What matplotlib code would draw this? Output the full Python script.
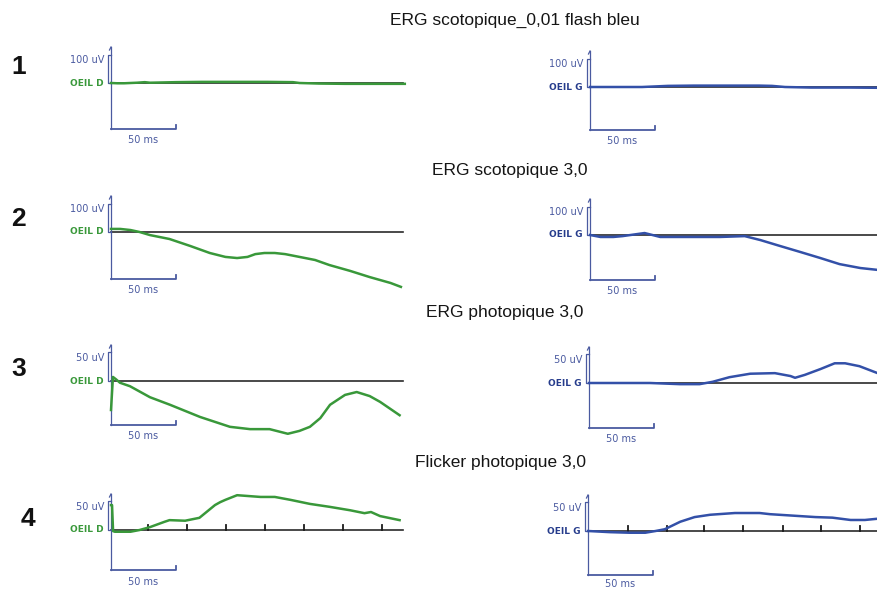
import matplotlib.pyplot as plt

W, H = 878, 590
MS_PX = 1.3  # pixels per ms (50 ms bar = 65 px)

# texts
titles = ["ERG scotopique_0,01 flash bleu", "ERG scotopique 3,0",
          "ERG photopique 3,0", "Flicker photopique 3,0"]
row_labels = ["1", "2", "3", "4"]
amp_labels = ["100 uV", "100 uV", "50 uV", "50 uV"]
amp_values = [100, 100, 50, 50]       # uV represented by the scale bracket
eye_labels = ["OEIL D", "OEIL G"]

# --- traces (time in ms, amplitude in uV) ---
# 1: scotopique 0,01
d1_t = [0, 5, 10, 20, 26, 30, 40, 50, 70, 100, 120, 140, 145, 160, 180, 200, 226]
d1_v = [0, -1, -1, 1, 3, 1, 2, 3, 4, 4, 4, 3, 0, -2, -3, -3, -3]
g1_t = [0, 20, 40, 50, 60, 80, 100, 130, 140, 150, 170, 200, 226]
g1_v = [0, 0, 0, 2, 4, 5, 5, 5, 4, 0, -2, -2, -3]

# 2: scotopique 3,0
d2_t = [0, 7, 15, 22, 30, 45, 61, 76, 88, 97, 105, 111, 118, 126, 134, 145, 157, 168, 184, 199, 215, 223]
d2_v = [11, 11, 7, 0, -11, -25, -50, -75, -89, -93, -89, -79, -75, -75, -79, -89, -100, -118, -139, -161, -182, -196]
g2_t = [0, 8, 18, 25, 42, 48, 54, 77, 100, 119, 131, 146, 162, 177, 192, 208, 222, 230]
g2_v = [0, -7, -7, -4, 7, 0, -7, -7, -7, -4, -18, -39, -61, -82, -104, -118, -125, -128]

# 3: photopique 3,0
d3_t = [0, 1.5, 3.8, 6.9, 14.6, 30, 45.4, 68.5, 91.5, 107, 122, 136, 145, 153, 161, 168.5, 180, 189, 199, 207, 222]
d3_v = [-50, 7, 3, -3, -9, -28, -41, -62, -79, -83, -83, -91, -86, -79, -64, -41, -24, -19, -26, -36, -59]
g3_t = [0, 24, 47, 70, 85, 95, 108, 124, 143, 155, 158.5, 166, 178, 189, 197, 208, 222, 230]
g3_v = [0, 0, 0, -2, -2, 2, 10, 16, 17, 12, 9, 14, 24, 34, 34, 29, 17, 12]

# 4: flicker 3,0
d4_t = [0, 0.8, 1.6, 3, 8, 15, 22, 30, 41, 45, 57, 68, 80, 84, 88, 97, 115, 126, 138, 153, 168, 184, 195, 200, 207, 222]
d4_v = [43, 43, -2, -3, -3, -3, 0, 5, 14, 17, 16, 21, 43, 48, 52, 60, 57, 57, 52, 45, 40, 34, 29, 31, 24, 17]
g4_t = [0, 17, 32, 44, 52, 59, 71, 82, 94, 113, 132, 140, 161, 175, 188, 202, 213, 222, 230]
g4_v = [0, -2, -3, -3, 0, 3, 16, 24, 28, 31, 31, 29, 26, 24, 23, 19, 19, 21, 21]

# flicker stimulus markers (ms)
d4_ticks = [28.5, 58.5, 88.5, 118.5, 148.5, 178.5, 208.5]
g4_ticks = [31, 60.5, 89.5, 119.5, 150, 179.5, 209.5]

traces = [[(d1_t, d1_v), (g1_t, g1_v)],
          [(d2_t, d2_v), (g2_t, g2_v)],
          [(d3_t, d3_v), (g3_t, g3_v)],
          [(d4_t, d4_v), (g4_t, g4_v)]]
flicker_ticks = [d4_ticks, g4_ticks]

# layout in pixels: origin of each panel, scale bar px, time bar offset
origins = [[(111, 83), (590, 87)],
           [(111, 232), (590, 235)],
           [(111, 381), (589, 383)],
           [(111, 530), (588, 531)]]
scale_px = [28, 28, 29, 29]
bar_off = [[46, 43], [47, 45], [44, 45], [40, 44]]
label_off = [[11, 11], [11, 11], [11, 11], [12, 9]]
baseline_end = [225, 300]   # px after origin (left stops, right runs off the page)
title_xy = [(515, 20), (510, 170), (505, 313), (501, 463)]
num_xy = [(19, 67), (18, 219), (19, 369), (28, 519)]

green = "#39983a"
blue = "#3350a8"
scale_col = "#4a5aa0"

fig = plt.figure(figsize=(W / 100, H / 100), dpi=100)

for t, (x, y) in zip(titles, title_xy):
    fig.text(x / W, 1 - y / H, t, ha="center", va="center", fontsize=12.5,
             family="Liberation Sans", color="#151515")
for n, (x, y) in zip(row_labels, num_xy):
    fig.text(x / W, 1 - y / H, n, ha="center", va="center", fontsize=19,
             fontweight="bold", family="Liberation Sans", color="#111111")

for r in range(4):
    sy = scale_px[r] / amp_values[r]   # px per uV
    for c in range(2):
        x0, y0 = origins[r][c]
        left, right, top, bottom = x0 - 70, x0 + 310, y0 - 50, y0 + 70
        ax = fig.add_axes([left / W, 1 - bottom / H, (right - left) / W, (bottom - top) / H])
        ax.set_xlim(-70 / MS_PX, 310 / MS_PX)
        ax.set_ylim(-70 / sy, 50 / sy)
        ax.axis("off")

        col = green if c == 0 else blue
        ms = lambda p: p / MS_PX
        uv = lambda p: p / sy

        # baseline
        ax.plot([0, baseline_end[c]], [0, 0], color="#2a2a2a", lw=1.2, zorder=1)

        # vertical axis down to the time bar, with arrow tip
        bo = bar_off[r][c]
        ax.plot([0, 0], [uv(-bo), uv(36)], color=scale_col, lw=0.9, zorder=2)
        ax.plot([0, ms(-1.5)], [uv(36), uv(33)], color=scale_col, lw=0.9)
        # amplitude bracket
        ax.plot([0, ms(-3), ms(-3), 0], [uv(scale_px[r]), uv(scale_px[r]), 0, 0],
                color=scale_col, lw=0.9)
        # 50 ms bar
        ax.plot([0, 50, 50], [uv(-bo), uv(-bo), uv(-bo + 4)], color=scale_col, lw=1.3)
        ax.text(25, uv(-bo - label_off[r][c]), "50 ms", ha="center", va="center",
                fontsize=7, color=scale_col, family="DejaVu Sans")

        ax.text(ms(-7), uv(23), amp_labels[r], ha="right", va="center", fontsize=7,
                color=scale_col, family="DejaVu Sans")
        ax.text(ms(-7), 0, eye_labels[c], ha="right", va="center", fontsize=6.5,
                color=col if c == 0 else "#263c8c", fontweight="bold",
                family="DejaVu Sans")

        if r == 3:
            for tk in flicker_ticks[c]:
                ax.plot([tk, tk], [0, uv(5)], color="#1a1a1a", lw=1.3, zorder=3)

        tt, vv = traces[r][c]
        ax.plot(tt, vv, color=col, lw=1.8, zorder=4, solid_joinstyle="round")

fig.savefig("out.png", dpi=100)
